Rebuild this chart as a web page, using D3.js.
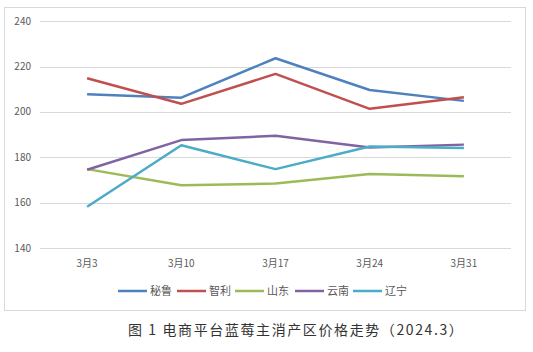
<!DOCTYPE html>
<html>
<head>
<meta charset="utf-8">
<script src="https://cdn.jsdelivr.net/npm/d3@7"></script>
<style>
  body { margin: 0; background: #fff; }
  svg { display: block; }
</style>
</head>
<body>
<svg id="chart" width="533" height="352"></svg>
<script>
// data
const dates = ["3月3", "3月10", "3月17", "3月24", "3月31"];
const seriesNames = ["秘鲁", "智利", "山东", "云南", "辽宁"];
const peru = [207.8, 206.3, 223.7, 209.7, 204.9];
const chile = [214.9, 203.6, 216.8, 201.4, 206.5];
const shandong = [174.8, 167.7, 168.4, 172.6, 171.7];
const yunnan = [174.5, 187.6, 189.5, 184.3, 185.6];
const liaoning = [158.2, 185.3, 174.8, 184.8, 184.1];
const yTicks = [140, 160, 180, 200, 220, 240];
const colors = ["#4f81bd", "#c0504d", "#9bbb59", "#8064a2", "#4bacc6"];

const allSeries = [peru, chile, shandong, yunnan, liaoning];

let svg = d3.select("#chart");
const font = "'Noto Sans CJK SC', 'Noto Sans', sans-serif";

// chart frame
svg.append("rect")
  .attr("x", 4.5).attr("y", 7.5)
  .attr("width", 521).attr("height", 303)
  .attr("fill", "#fff")
  .attr("stroke", "#d9d9d9");

let plotLeft = 40, plotRight = 511, plotTop = 21.3, plotBottom = 248;

let x = d3.scalePoint().domain(dates).range([plotLeft, plotRight]).padding(0.5);
let y = d3.scaleLinear().domain([140, 240]).range([plotBottom, plotTop]);

// gridlines
svg.append("g")
  .selectAll("line")
  .data(yTicks)
  .join("line")
  .attr("x1", plotLeft).attr("x2", plotRight)
  .attr("y1", d => Math.round(y(d)) + 0.5)
  .attr("y2", d => Math.round(y(d)) + 0.5)
  .attr("stroke", "#d9d9d9");

// y labels
svg.append("g")
  .selectAll("text")
  .data(yTicks)
  .join("text")
  .attr("x", 31)
  .attr("y", d => y(d))
  .attr("dy", "0.35em")
  .attr("text-anchor", "end")
  .attr("font-family", font)
  .attr("font-size", "10px")
  .attr("fill", "#595959")
  .text(d => d);

// x labels
svg.append("g")
  .selectAll("text")
  .data(dates)
  .join("text")
  .attr("x", d => x(d))
  .attr("y", 267)
  .attr("text-anchor", "middle")
  .attr("font-family", font)
  .attr("font-size", "10px")
  .attr("fill", "#595959")
  .text(d => d);

let line = d3.line()
  .x((d, i) => x(dates[i]))
  .y(d => y(d));

svg.append("g")
  .selectAll("path")
  .data(allSeries)
  .join("path")
  .attr("d", d => line(d))
  .attr("fill", "none")
  .attr("stroke", (d, i) => colors[i])
  .attr("stroke-width", 2.5)
  .attr("stroke-linejoin", "round");

// legend
const legendX = [118, 177, 235, 295, 353];
let legend = svg.append("g")
  .selectAll("g")
  .data(seriesNames)
  .join("g")
  .attr("transform", (d, i) => "translate(" + legendX[i] + ",291)");

legend.append("line")
  .attr("x1", 0).attr("x2", 29)
  .attr("stroke", (d, i) => colors[i])
  .attr("stroke-width", 2.5);

legend.append("text")
  .attr("x", 32)
  .attr("dy", "0.35em")
  .attr("font-family", font)
  .attr("font-size", "11px")
  .attr("fill", "#595959")
  .text(d => d);

// caption
svg.append("text")
  .attr("x", 128)
  .attr("y", 335)
  .attr("font-family", "'Noto Sans CJK SC', serif")
  .attr("font-size", "14px")
  .attr("letter-spacing", "1.6px")
  .attr("fill", "#333")
  .text("图 1 电商平台蓝莓主消产区价格走势（2024.3）");
</script>
</body>
</html>
